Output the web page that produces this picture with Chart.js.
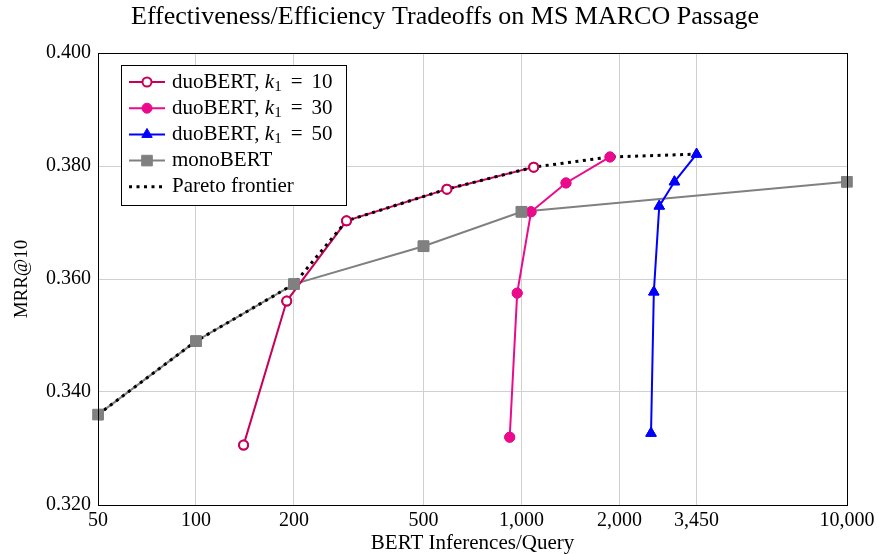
<!DOCTYPE html>
<html>
<head>
<meta charset="utf-8">
<script src="https://cdn.jsdelivr.net/npm/chart.js@4"></script>
<style>
  html, body { margin: 0; padding: 0; background: #ffffff; }
  #wrap { width: 879px; height: 554px; }
</style>
</head>
<body>
<div id="wrap"><canvas id="chart" width="879" height="554"></canvas></div>
<script>
// ---------- data ----------
const xTicks = [50, 100, 200, 500, 1000, 2000, 3450, 10000];
const yTicks = [0.32, 0.34, 0.36, 0.38, 0.40];

const duo10X = [140, 190, 290, 590, 1090];
const duo10Y = [0.3306, 0.3561, 0.3703, 0.3759, 0.3798];

const duo30X = [920, 970, 1070, 1370, 1870];
const duo30Y = [0.3320, 0.3575, 0.3719, 0.3770, 0.3816];

const duo50X = [2500, 2550, 2650, 2950, 3450];
const duo50Y = [0.3327, 0.3577, 0.3729, 0.3772, 0.3821];

const monoX = [50, 100, 200, 500, 1000, 10000];
const monoY = [0.3360, 0.3490, 0.3591, 0.3658, 0.3719, 0.3772];

const paretoX = [50, 100, 200, 290, 590, 1090, 1870, 3450];
const paretoY = [0.3360, 0.3490, 0.3591, 0.3703, 0.3759, 0.3798, 0.3816, 0.3821];

function pts(xs, ys) {
    return xs.map(function (x, i) { return { x: x, y: ys[i] }; });
}

const SERIF = "'Liberation Serif', 'DejaVu Serif', serif";
const crimson = "#c8005a";
const magenta = "#ec0a8c";
const blue = "#0000ff";
const gray = "#808080";

// legend entries
const legendItems = [
    { ds: 0, label: "duoBERT, ", k: "10" },
    { ds: 1, label: "duoBERT, ", k: "30" },
    { ds: 2, label: "duoBERT, ", k: "50" },
    { ds: 3, label: "monoBERT" },
    { ds: 4, label: "Pareto frontier" }
];

function drawMarkerPath(ctx, style, r, x, y) {
    if (style === "circle") {
        ctx.arc(x, y, r, 0, Math.PI * 2);
    } else if (style === "rect") {
        const s = r * Math.SQRT1_2;
        ctx.rect(x - s, y - s, 2 * s, 2 * s);
    } else if (style === "triangle") {
        ctx.moveTo(x, y - r);
        ctx.lineTo(x + r * Math.sin(Math.PI * 2 / 3), y + r * 0.5);
        ctx.lineTo(x - r * Math.sin(Math.PI * 2 / 3), y + r * 0.5);
        ctx.closePath();
    }
}

// ---------- custom drawing: title, axis titles, frame, legend ----------
const decorPlugin = {
    id: "decor",
    afterDatasetsDraw: function (chart) {
        const ctx = chart.ctx;
        // markers go on top of the frontier line
        for (let i = 0; i < 4; i++) {
            chart.getDatasetMeta(i).data.forEach(function (p) { p.draw(ctx, chart.chartArea); });
        }
    },
    afterDraw: function (chart) {
        const ctx = chart.ctx;
        const a = chart.chartArea;
        ctx.save();

        // frame
        ctx.strokeStyle = "#000";
        ctx.lineWidth = 1;
        ctx.strokeRect(Math.round(a.left) + 0.5, Math.round(a.top) + 0.5,
            Math.round(a.right - a.left), Math.round(a.bottom - a.top));

        // title
        ctx.fillStyle = "#000";
        ctx.textAlign = "center";
        ctx.textBaseline = "middle";
        ctx.font = "26px " + SERIF;
        ctx.fillText("Effectiveness/Efficiency Tradeoffs on MS MARCO Passage", 445, 17);

        // x axis title
        ctx.font = "21px " + SERIF;
        ctx.fillText("BERT Inferences/Query", (a.left + a.right) / 2, 543);

        // y axis title
        ctx.save();
        ctx.translate(22, (a.top + a.bottom) / 2);
        ctx.rotate(-Math.PI / 2);
        ctx.font = "19px " + SERIF;
        ctx.fillText("MRR@10", 0, 0);
        ctx.restore();

        // legend box
        const bx = 121, by = 65, bw = 225, bh = 140;
        ctx.fillStyle = "#fff";
        ctx.fillRect(bx, by, bw, bh);
        ctx.strokeStyle = "#000";
        ctx.lineWidth = 1;
        ctx.strokeRect(bx + 0.5, by + 0.5, bw, bh);

        legendItems.forEach(function (it, idx) {
            const ds = chart.data.datasets[it.ds];
            const y = 82 + idx * 26.2;
            ctx.save();
            ctx.strokeStyle = ds.borderColor;
            ctx.lineWidth = ds.borderWidth;
            ctx.setLineDash(ds.borderDash || []);
            ctx.beginPath();
            ctx.moveTo(129, y);
            ctx.lineTo(165, y);
            ctx.stroke();
            ctx.setLineDash([]);
            if (ds.pointRadius > 0) {
                ctx.fillStyle = ds.pointBackgroundColor;
                ctx.strokeStyle = ds.pointBorderColor;
                ctx.lineWidth = ds.pointBorderWidth;
                ctx.beginPath();
                drawMarkerPath(ctx, ds.pointStyle, ds.pointRadius, 147, y);
                ctx.fill();
                ctx.stroke();
            }
            ctx.restore();

            // text
            ctx.fillStyle = "#000";
            ctx.textAlign = "left";
            ctx.textBaseline = "middle";
            ctx.font = "21px " + SERIF;
            let tx = 172;
            ctx.fillText(it.label, tx, y);
            tx += ctx.measureText(it.label).width;
            if (it.k) {
                ctx.font = "italic 21px " + SERIF;
                ctx.fillText("k", tx, y);
                tx += ctx.measureText("k").width;
                ctx.font = "15px " + SERIF;
                ctx.fillText("1", tx, y + 5);
                tx += ctx.measureText("1").width + 9;
                ctx.font = "21px " + SERIF;
                ctx.fillText("=", tx, y);
                tx += ctx.measureText("=").width + 9;
                ctx.fillText(it.k, tx, y);
            }
        });
        ctx.restore();
    }
};

new Chart(document.getElementById("chart"), {
    type: "line",
    data: {
        datasets: [
            {
                label: "duoBERT, k1 = 10",
                data: pts(duo10X, duo10Y),
                borderColor: crimson,
                borderWidth: 2,
                pointStyle: "circle",
                pointRadius: 4.5,
                pointBorderWidth: 2,
                pointBackgroundColor: "#fff",
                pointBorderColor: crimson,
                order: 3
            },
            {
                label: "duoBERT, k1 = 30",
                data: pts(duo30X, duo30Y),
                borderColor: magenta,
                borderWidth: 2,
                pointStyle: "circle",
                pointRadius: 5,
                pointBorderWidth: 1,
                pointBackgroundColor: magenta,
                pointBorderColor: magenta,
                order: 2
            },
            {
                label: "duoBERT, k1 = 50",
                data: pts(duo50X, duo50Y),
                borderColor: blue,
                borderWidth: 2,
                pointStyle: "triangle",
                pointRadius: 6,
                pointBorderWidth: 1,
                pointBackgroundColor: blue,
                pointBorderColor: blue,
                order: 1
            },
            {
                label: "monoBERT",
                data: pts(monoX, monoY),
                borderColor: gray,
                borderWidth: 2,
                pointStyle: "rect",
                pointRadius: 7.5,
                pointBorderWidth: 1,
                pointBackgroundColor: gray,
                pointBorderColor: gray,
                order: 4
            },
            {
                label: "Pareto frontier",
                data: pts(paretoX, paretoY),
                borderColor: "#000",
                borderWidth: 3,
                borderDash: [3, 4.5],
                pointRadius: 0,
                order: 0
            }
        ]
    },
    options: {
        responsive: false,
        animation: false,
        events: [],
        layout: { padding: { top: 53, right: 32, bottom: 0, left: 0 } },
        elements: { line: { tension: 0, fill: false } },
        scales: {
            x: {
                type: "logarithmic",
                min: 50,
                max: 10000,
                afterBuildTicks: function (scale) {
                    scale.ticks = xTicks.map(function (v) { return { value: v }; });
                },
                afterFit: function (scale) {
                    scale.height = 49;
                    scale.paddingLeft = 0;
                    scale.paddingRight = 0;
                },
                grid: { color: "#d0d0d0", lineWidth: 1, drawTicks: false },
                border: { color: "#000", width: 1 },
                ticks: {
                    color: "#000",
                    padding: 4,
                    maxRotation: 0,
                    autoSkip: false,
                    font: { family: SERIF, size: 20 },
                    callback: function (v) { return Number(v).toLocaleString("en-US"); }
                }
            },
            y: {
                min: 0.32,
                max: 0.40,
                afterBuildTicks: function (scale) {
                    scale.ticks = yTicks.map(function (v) { return { value: v }; });
                },
                afterFit: function (scale) {
                    scale.width = 98;
                },
                grid: { color: "#d0d0d0", lineWidth: 1, drawTicks: false },
                border: { color: "#000", width: 1 },
                ticks: {
                    color: "#000",
                    padding: 7,
                    font: { family: SERIF, size: 20 },
                    callback: function (v) { return Number(v).toFixed(3); }
                }
            }
        },
        plugins: {
            legend: { display: false },
            title: { display: false },
            tooltip: { enabled: false }
        }
    },
    plugins: [decorPlugin]
});
</script>
</body>
</html>
